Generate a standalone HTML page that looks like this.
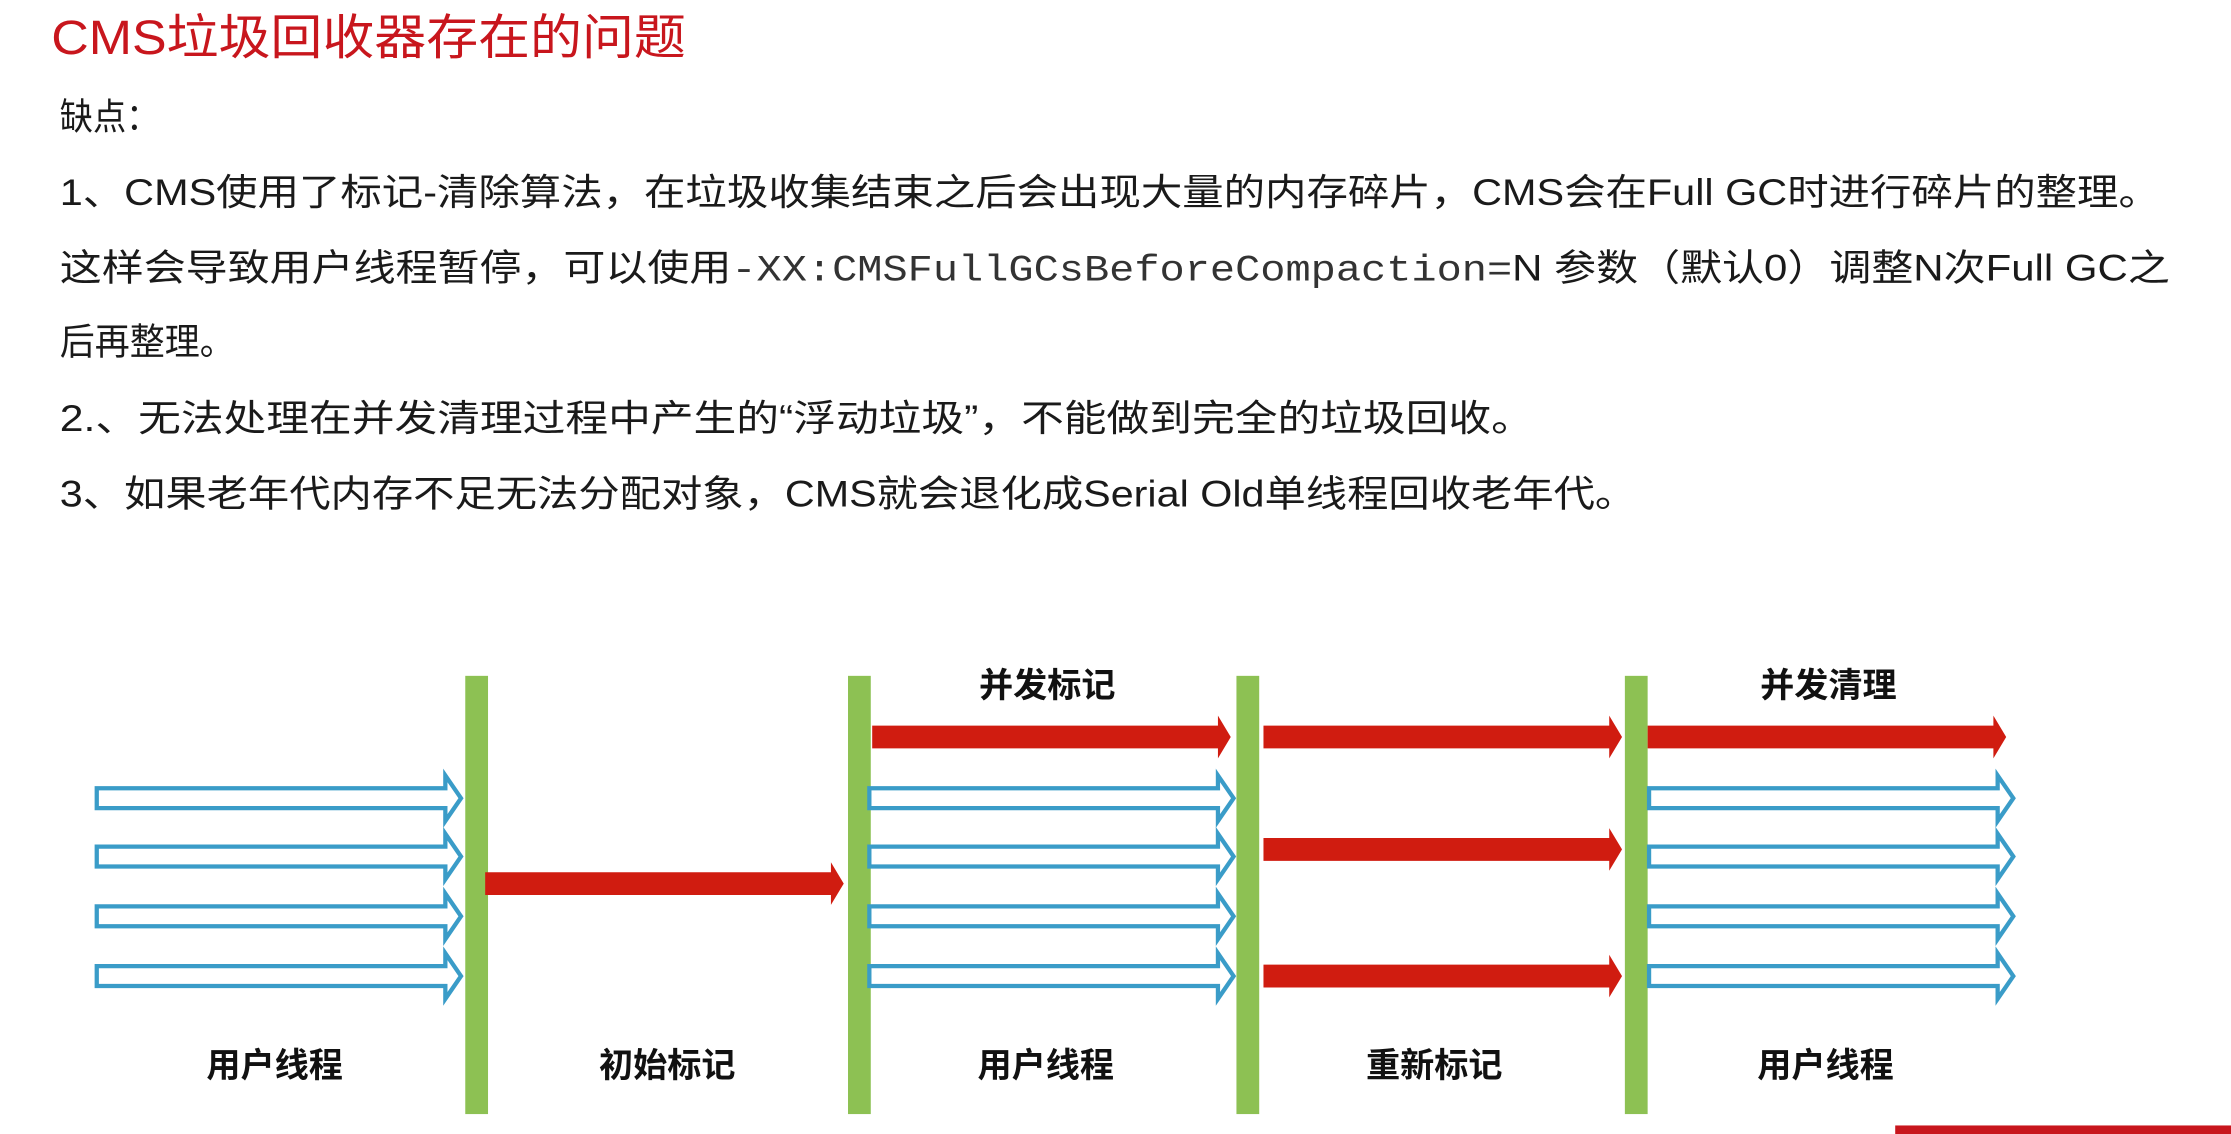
<!DOCTYPE html>
<html><head><meta charset="utf-8"><style>
html,body{margin:0;padding:0;background:#fff;}
svg{display:block;}
text{font-family:"Liberation Sans","Noto Sans CJK SC",sans-serif;}
.t{font-size:26px;fill:#1a1a1a;}
.l{font-size:24px;font-weight:bold;fill:#111;text-anchor:middle;}
</style></head><body>
<svg width="2231" height="1134" viewBox="0 0 1568 797" xmlns="http://www.w3.org/2000/svg">
<defs>
<path id="ba" d="M0,-7 H245 V-16 L256,0 L245,16 V7 H0 Z" fill="#fff" stroke="#3a9cc8" stroke-width="3"/>
<path id="ra" d="M0,-8 H243 V-15 L252,0 L243,15 V8 H0 Z" fill="#d01c10"/>
</defs>
<text x="36" y="38" font-size="34" fill="#c8161d" textLength="446" lengthAdjust="spacingAndGlyphs">CMS垃圾回收器存在的问题</text>
<text class="t" x="42" y="91" textLength="70" lengthAdjust="spacingAndGlyphs">缺点：</text>
<text class="t" x="42" y="144" textLength="1476" lengthAdjust="spacingAndGlyphs">1、CMS使用了标记-清除算法，在垃圾收集结束之后会出现大量的内存碎片，CMS会在Full GC时进行碎片的整理。</text>
<text class="t" x="42" y="197" textLength="1483" lengthAdjust="spacingAndGlyphs">这样会导致用户线程暂停，可以使用<tspan font-family="Liberation Mono,monospace" fill="#333">-XX:CMSFullGCsBeforeCompaction=</tspan>N 参数（默认0）调整N次Full GC之</text>
<text class="t" x="42" y="249" textLength="123" lengthAdjust="spacingAndGlyphs">后再整理。</text>
<text class="t" x="42" y="303" textLength="1036" lengthAdjust="spacingAndGlyphs">2.、无法处理在并发清理过程中产生的“浮动垃圾”，不能做到完全的垃圾回收。</text>
<text class="t" x="42" y="356" textLength="1108" lengthAdjust="spacingAndGlyphs">3、如果老年代内存不足无法分配对象，CMS就会退化成Serial Old单线程回收老年代。</text>

<g fill="#8dc153">
<rect x="327" y="475" width="16" height="308"/>
<rect x="596" y="475" width="16" height="308"/>
<rect x="869" y="475" width="16" height="308"/>
<rect x="1142" y="475" width="16" height="308"/>
</g>

<use href="#ba" x="68" y="561"/><use href="#ba" x="68" y="602"/><use href="#ba" x="68" y="644"/><use href="#ba" x="68" y="686"/>
<use href="#ba" x="611" y="561"/><use href="#ba" x="611" y="602"/><use href="#ba" x="611" y="644"/><use href="#ba" x="611" y="686"/>
<use href="#ba" x="1159" y="561"/><use href="#ba" x="1159" y="602"/><use href="#ba" x="1159" y="644"/><use href="#ba" x="1159" y="686"/>

<use href="#ra" x="341" y="621"/>
<use href="#ra" x="613" y="518"/>
<use href="#ra" x="888" y="518"/><use href="#ra" x="888" y="597"/><use href="#ra" x="888" y="686"/>
<use href="#ra" x="1158" y="518"/>

<text class="l" x="193" y="757">用户线程</text>
<text class="l" x="469" y="757">初始标记</text>
<text class="l" x="735" y="757">用户线程</text>
<text class="l" x="1008" y="757">重新标记</text>
<text class="l" x="1283" y="757">用户线程</text>
<text class="l" x="736" y="490">并发标记</text>
<text class="l" x="1285" y="490">并发清理</text>
<rect x="1332" y="791" width="236" height="6" fill="#c8161d"/>
</svg>
</body></html>
